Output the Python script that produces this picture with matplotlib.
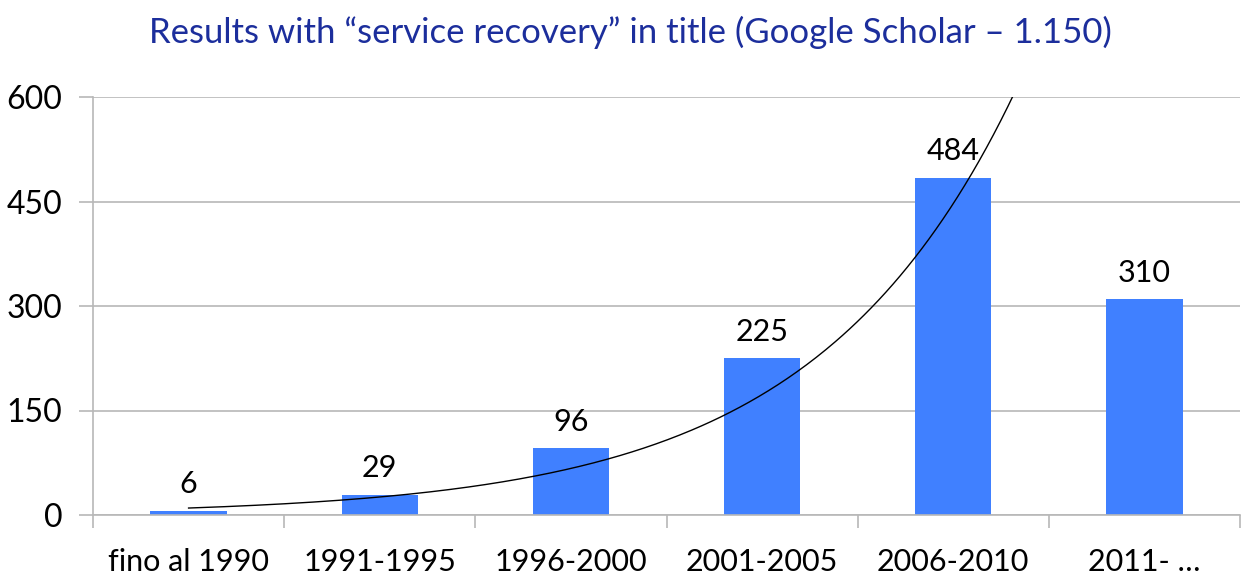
import numpy as np
import matplotlib
matplotlib.use("Agg")
import matplotlib.pyplot as plt

plt.rcParams['font.family'] = ['Lato', 'DejaVu Sans']

# Publication counts per period
periods = ["fino al 1990", "1991-1995", "1996-2000", "2001-2005", "2006-2010", "2011- …"]
results = [6, 29, 96, 225, 484, 310]

# Exponential trendline: value at the first period and growth rate per period
trend_start = 10.0
trend_rate = 0.95

y_ticks = [0, 150, 300, 450, 600]

fig = plt.figure(figsize=(12.42, 5.77), dpi=100)
ax = fig.add_axes([93 / 1242, 1 - 515 / 577, 1147 / 1242, 418 / 577])

x = np.arange(len(periods))
ax.bar(x, results, width=0.4, color='#4080FF', zorder=2)

for xi, v in zip(x, results):
    ax.annotate(str(v), (xi, v), xytext=(0, 9), textcoords='offset points',
                ha='center', va='bottom', fontsize=22, color='black', zorder=4)

xt = np.linspace(0, len(periods) - 1, 400)
ax.plot(xt, trend_start * np.exp(trend_rate * xt), color='black', lw=1.0, zorder=3)

ax.set_xlim(-0.5, len(periods) - 0.5)
ax.set_ylim(0, 600)
ax.set_yticks(y_ticks)
ax.set_yticklabels([str(t) for t in y_ticks], fontsize=23)
ax.yaxis.grid(True, color='#b8b8b8', lw=1.2, zorder=0)
ax.set_axisbelow(True)

# category labels centred under bars, tick marks on the boundaries
ax.set_xticks(x)
ax.set_xticklabels(periods, fontsize=22)
ax.tick_params(axis='x', which='major', length=0, pad=24)
ax.set_xticks(np.arange(-0.5, len(periods)), minor=True)
ax.tick_params(axis='x', which='minor', length=9, color='#b8b8b8', width=1.2)
ax.tick_params(axis='y', length=10, color='#b8b8b8', width=1.2, pad=12)

for side in ['top', 'right']:
    ax.spines[side].set_visible(False)
for side in ['left', 'bottom']:
    ax.spines[side].set_color('#b8b8b8')
    ax.spines[side].set_linewidth(1.2)

fig.text(630 / 1242, 1 - 32 / 577, "Results with \u201cservice recovery\u201d in title (Google Scholar \u2013 1.150)",
         ha='center', va='center', fontsize=25, color='#1c2e9c')

fig.savefig('out.png', dpi=100)
